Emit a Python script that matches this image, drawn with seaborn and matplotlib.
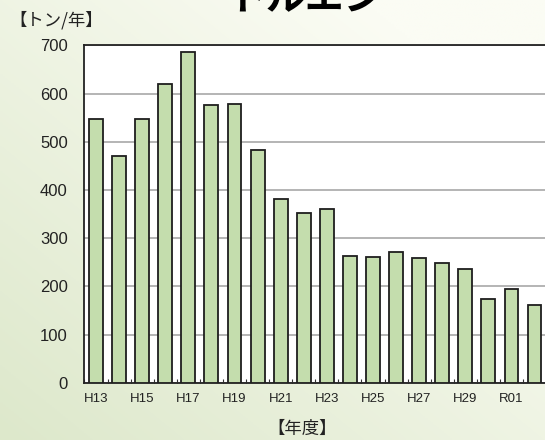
import numpy as np
import pandas as pd
import seaborn as sns
import matplotlib.pyplot as plt
from matplotlib.colors import LinearSegmentedColormap

# 年度ごとの排出量 (トン/年)
years = ["H13", "H14", "H15", "H16", "H17", "H18", "H19", "H20", "H21", "H22",
         "H23", "H24", "H25", "H26", "H27", "H28", "H29", "H30", "R01", "R02"]
amounts = [547, 470, 548, 619, 687, 576, 579, 483, 381, 352,
           360, 263, 261, 271, 259, 249, 237, 174, 195, 161]
shown_labels = ["H13", "H15", "H17", "H19", "H21", "H23", "H25", "H27", "H29", "R01"]

df = pd.DataFrame({"year": years, "amount": amounts})

sns.set_theme(style="white")
plt.rcParams["font.family"] = ["Liberation Sans", "Noto Sans CJK JP", "DejaVu Sans"]
jp = ["Noto Sans CJK JP", "DejaVu Sans"]

fig = plt.figure(figsize=(5.45, 4.4), dpi=100)

# light green gradient background
bg = fig.add_axes([0, 0, 1, 1], zorder=-10)
gx, gy = np.meshgrid(np.linspace(0, 1, 200), np.linspace(0, 1, 200))
grad = np.clip(0.6 * gx + 0.6 * gy, 0, 1)
cmap = LinearSegmentedColormap.from_list("bg", ["#dde8cb", "#fbfcf4"])
bg.imshow(grad, cmap=cmap, origin="lower", aspect="auto", extent=[0, 1, 0, 1])
bg.axis("off")

ax = fig.add_axes([0.155, 0.13, 0.847, 0.767])
ax.set_facecolor("white")
sns.barplot(data=df, x="year", y="amount", color="#c4ddad", saturation=1,
            edgecolor="#1e1e1e", linewidth=1.3, width=0.6, ax=ax, zorder=3)

ax.set_ylim(0, 700)
ax.set_xlim(-0.5, len(years) - 0.5)
ax.set_yticks(range(0, 701, 100))
ax.yaxis.grid(True, color="#a8a8a8", linewidth=1.2, zorder=0)
ax.set_axisbelow(True)

pos = [years.index(s) for s in shown_labels]
ax.set_xticks(pos)
ax.set_xticklabels(shown_labels, fontsize=9.5, color="#222222")
ax.set_xticks(np.arange(-0.5, len(years), 1), minor=True)
ax.tick_params(axis="x", which="major", length=0, pad=7)
ax.tick_params(axis="x", which="minor", direction="in", length=3, width=0.8,
               color="#333333", bottom=True)
ax.tick_params(axis="y", length=0, pad=12, labelsize=12, labelcolor="#222222")

for s in ["left", "top", "bottom"]:
    ax.spines[s].set_color("#222222")
    ax.spines[s].set_linewidth(1.3)
ax.spines["right"].set_visible(False)
ax.set_xlabel("")
ax.set_ylabel("")

fig.text(0.018, 0.955, "【トン/年】", family=jp, fontsize=12.5, va="center", ha="left",
         color="#222222")
fig.text(0.555, 0.025, "【年度】", family=jp, fontsize=12.5, va="center", ha="center",
         color="#222222")
fig.text(0.56, 0.962, "トルエン", family=jp, fontsize=28, fontweight="bold",
         va="bottom", ha="center", color="black")

fig.savefig("out.png", dpi=100)
